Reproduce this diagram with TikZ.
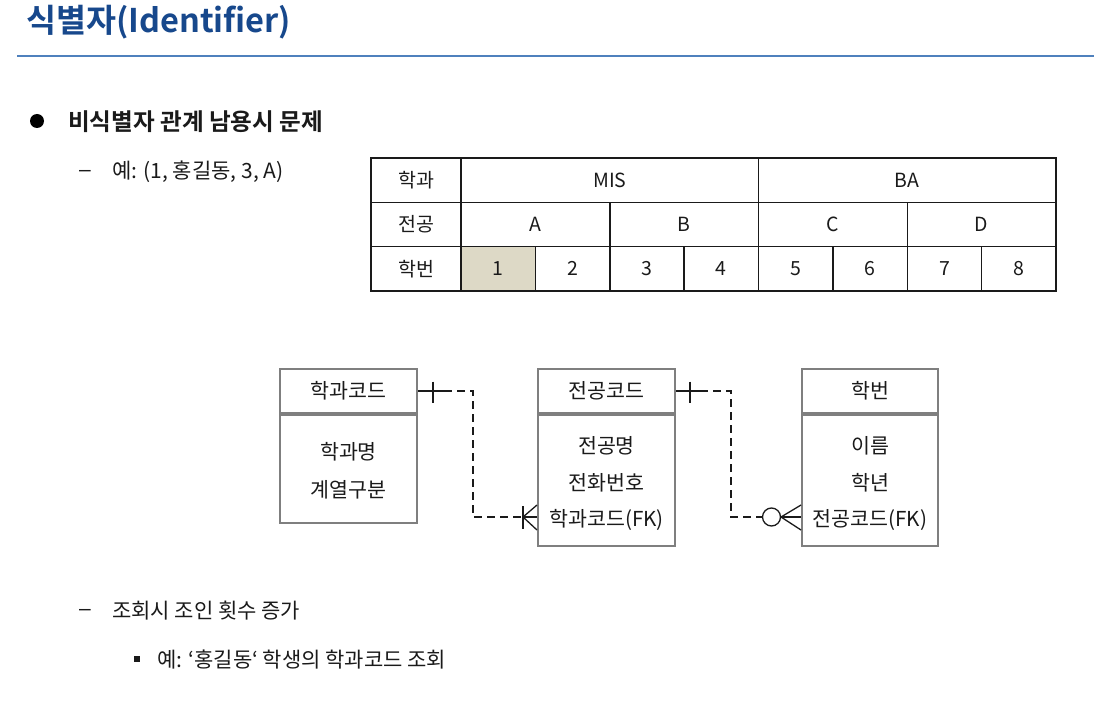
\documentclass[tikz,border=0pt]{standalone}
\usepackage{fontspec}
\setmainfont{Noto Sans CJK KR}[BoldFont={Noto Sans CJK KR Bold}]
\newfontfamily\dashfont{Liberation Sans}
\usetikzlibrary{calc}
\definecolor{titleblue}{HTML}{17488C}
\definecolor{rulecol}{HTML}{4F81BD}
\definecolor{cellfill}{HTML}{DDD9C6}
\definecolor{boxgray}{HTML}{7F7F7F}
\definecolor{ink}{HTML}{1A1A1A}
\tikzset{
  txt/.style={inner sep=0pt, text=ink, font=\fontsize{21}{25}\selectfont},
  dtxt/.style={inner sep=0pt, text=ink, font=\dashfont\fontsize{21}{25}\selectfont},
  etxt/.style={inner sep=0pt, text=ink, font=\fontsize{20.6}{24}\selectfont},
  cell/.style={draw=ink, line width=1.5pt, inner sep=0pt, text=ink, font=\fontsize{19.5}{23}\selectfont},
  ent/.style={draw=boxgray, line width=2pt, inner sep=0pt, text=ink, font=\fontsize{20.6}{24}\selectfont, fill=white},
  conn/.style={draw=ink, line width=1.3pt},
  dashline/.style={conn, dash pattern=on 8pt off 5pt},
}
\begin{document}
\begin{tikzpicture}[x=1pt,y=-1pt]
\useasboundingbox (0,0) rectangle (1094,703);
% title
\node[anchor=base west, inner sep=0pt, text=titleblue, font=\bfseries\fontsize{32.6}{38}\selectfont] (title) at (26,33) {식별자(Identifier)};
\coordinate (ruleL) at (17,56);
\coordinate (ruleR) at (1094,56);
\draw[rulecol, line width=2pt] (ruleL) -- (ruleR);
% heading
\node[circle, fill=black, minimum size=14pt, inner sep=0pt] (bul) at (37,121) {};
\node[txt, anchor=west, font=\bfseries\fontsize{23.6}{27}\selectfont] (head) at (68,122) {비식별자 관계 남용시 문제};
\node[dtxt, anchor=west] (d1) at (79,173) {–};
\node[txt, anchor=west] (ex1) at (112,172) {예: (1, 홍길동, 3, A)};
% table
\def\cw{74.375}
\node[cell, minimum width=90pt, minimum height=44.33pt] (r1h) at (416,180.17) {학과};
\node[cell, minimum width=90pt, minimum height=44.33pt] (r2h) at (416,224.5) {전공};
\node[cell, minimum width=90pt, minimum height=44.33pt] (r3h) at (416,268.83) {학번};
\node[cell, minimum width=297.5pt, minimum height=44.33pt] (mis) at (609.75,180.17) {MIS};
\node[cell, minimum width=297.5pt, minimum height=44.33pt] (ba) at (907.25,180.17) {BA};
\foreach \n/\k in {A/0,B/1,C/2,D/3}{
  \node[cell, minimum width=148.75pt, minimum height=44.33pt] (maj\n) at ({461+148.75*\k+74.375},224.5) {\n};
}
\node[cell, fill=cellfill, minimum width=\cw pt, minimum height=44.33pt] (s1) at ({461+\cw/2},268.83) {1};
\foreach \k in {2,...,8}{
  \node[cell, minimum width=\cw pt, minimum height=44.33pt] (s\k) at ({461+\cw*(\k-1)+\cw/2},268.83) {\k};
}
% entities
\node[ent, minimum width=137pt, minimum height=44pt] (h1) at (348.5,391) {학과코드};
\node[ent, minimum width=137pt, minimum height=108pt, anchor=north] (b1) at (h1.south) {};
\node[etxt] (b1a) at (348.5,452) {학과명};
\node[etxt] (b1b) at (348.5,490) {계열구분};

\node[ent, minimum width=137pt, minimum height=44pt] (h2) at (606.5,391) {전공코드};
\node[ent, minimum width=137pt, minimum height=131pt, anchor=north] (b2) at (h2.south) {};
\node[etxt] (b2a) at (606.5,446) {전공명};
\node[etxt] (b2b) at (606.5,483) {전화번호};
\node[etxt] (b2c) at (606.5,520) {학과코드(FK)};

\node[ent, minimum width=136pt, minimum height=44pt] (h3) at (870,391) {학번};
\node[ent, minimum width=136pt, minimum height=131pt, anchor=north] (b3) at (h3.south) {};
\node[etxt] (b3a) at (870,446) {이름};
\node[etxt] (b3b) at (870,483) {학년};
\node[etxt] (b3c) at (870,520) {전공코드(FK)};

% connector 1 : 학과코드 -> 전공 (one to many)
\coordinate (c1s) at (h1.east);
\coordinate (c1t) at ($(c1s)+(15,0)$);
\coordinate (c1e) at ($(c1s)+(26,0)$);
\coordinate (c1k) at (473,391);
\coordinate (c1m) at (473,517);
\coordinate (c1f) at (523,517);
\coordinate (c1b) at (b2.west |- c1f);
\draw[conn] (c1s) -- (c1e);
\draw[conn] ($(c1t)+(0,-9.5)$) -- ($(c1t)+(0,11.5)$);
\draw[dashline] (c1e) -- (c1k) -- (c1m) -- (c1f);
\draw[conn] ($(c1f)+(0,-11)$) -- ($(c1f)+(0,12)$);
\draw[conn] ($(c1b)+(0,-12)$) -- (c1f) -- ($(c1b)+(0,13)$);
\draw[conn] (c1f) -- (c1b);

% connector 2 : 전공코드 -> 학번 (zero or many)
\coordinate (c2s) at (h2.east);
\coordinate (c2t) at ($(c2s)+(14,0)$);
\coordinate (c2e) at ($(c2s)+(24,0)$);
\coordinate (c2k) at (731,391);
\coordinate (c2m) at (731,517);
\coordinate (c2o) at (762.5,517);
\coordinate (c2f) at (781,517);
\coordinate (c2b) at (b3.west |- c2f);
\draw[conn] (c2s) -- (c2e);
\draw[conn] ($(c2t)+(0,-9.5)$) -- ($(c2t)+(0,11.5)$);
\draw[dashline] (c2e) -- (c2k) -- (c2m) -- (c2o);
\draw[conn] (771.5,517) circle (9);
\draw[conn] ($(c2b)+(0,-12)$) -- (c2f) -- ($(c2b)+(0,13)$);
\draw[conn] (c2f) -- (c2b);

% bottom text
\node[dtxt, anchor=west] (d2) at (79,612) {–};
\node[txt, anchor=west] (q1) at (112,611) {조회시 조인 횟수 증가};
\node[fill=ink, minimum size=6.5pt, inner sep=0pt] (sq) at (137,659) {};
\node[txt, anchor=west] (q2) at (157,660) {예: ‘홍길동‘ 학생의 학과코드 조회};
\end{tikzpicture}
\end{document}
